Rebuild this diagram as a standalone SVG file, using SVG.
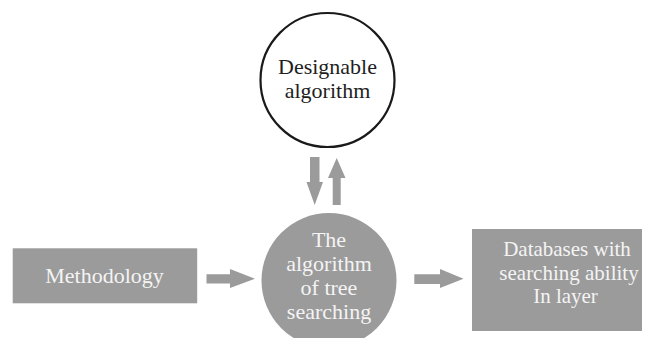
<svg xmlns="http://www.w3.org/2000/svg" width="646" height="338" viewBox="0 0 646 338">
  <style>
    .box { fill: #9b9b9b; }
    .arrow { fill: #9b9b9b; }
    .lbl { font-family: "Liberation Serif", "Times New Roman", serif; font-size: 22px; text-anchor: middle; }
    .small { font-size: 21px; }
    .light { fill: #f4f4f4; }
    .dark { fill: #1e1e1e; }
  </style>
  <rect width="646" height="338" fill="#ffffff"/>

  <!-- connectors -->
  <g id="connectors">
    <!-- down arrow: designable -> tree searching -->
    <polygon class="arrow" points="310,157 319.5,157 319.5,182 323,182 314.7,205 306.5,182 310,182"/>
    <!-- up arrow: tree searching -> designable -->
    <polygon class="arrow" points="332.7,205 340.7,205 340.7,178 345.5,178 336.7,158 328,178 332.7,178"/>
    <!-- methodology -> tree searching -->
    <polygon class="arrow" points="206.5,274.3 230,274.3 230,269 255,278.7 230,288 230,283.5 206.5,283.5"/>
    <!-- tree searching -> databases -->
    <polygon class="arrow" points="414.3,274.3 440,274.3 440,269 463.5,278.7 440,288 440,284 414.3,284"/>
  </g>

  <g id="designable">
    <circle cx="327.5" cy="80" r="67" fill="#ffffff" stroke="#1a1a1a" stroke-width="2.2"/>
    <text class="lbl dark" x="327.5" y="74">Designable</text>
    <text class="lbl dark" x="327.5" y="97.5">algorithm</text>
  </g>

  <g id="tree-searching">
    <circle class="box" cx="329" cy="280.5" r="67.5"/>
    <text class="lbl light" x="329" y="247">The</text>
    <text class="lbl light" x="329" y="271">algorithm</text>
    <text class="lbl light" x="329" y="295">of tree</text>
    <text class="lbl light" x="329" y="319">searching</text>
  </g>

  <g id="methodology">
    <rect class="box" x="12.7" y="248.3" width="184.5" height="55"/>
    <text class="lbl light" x="104.5" y="283.3">Methodology</text>
  </g>

  <g id="databases">
    <rect class="box" x="472" y="229" width="170" height="102"/>
    <text class="lbl small light" x="567" y="256">Databases with</text>
    <text class="lbl small light" x="569" y="279.5">searching ability</text>
    <text class="lbl small light" x="565.5" y="303">In layer</text>
  </g>
</svg>
